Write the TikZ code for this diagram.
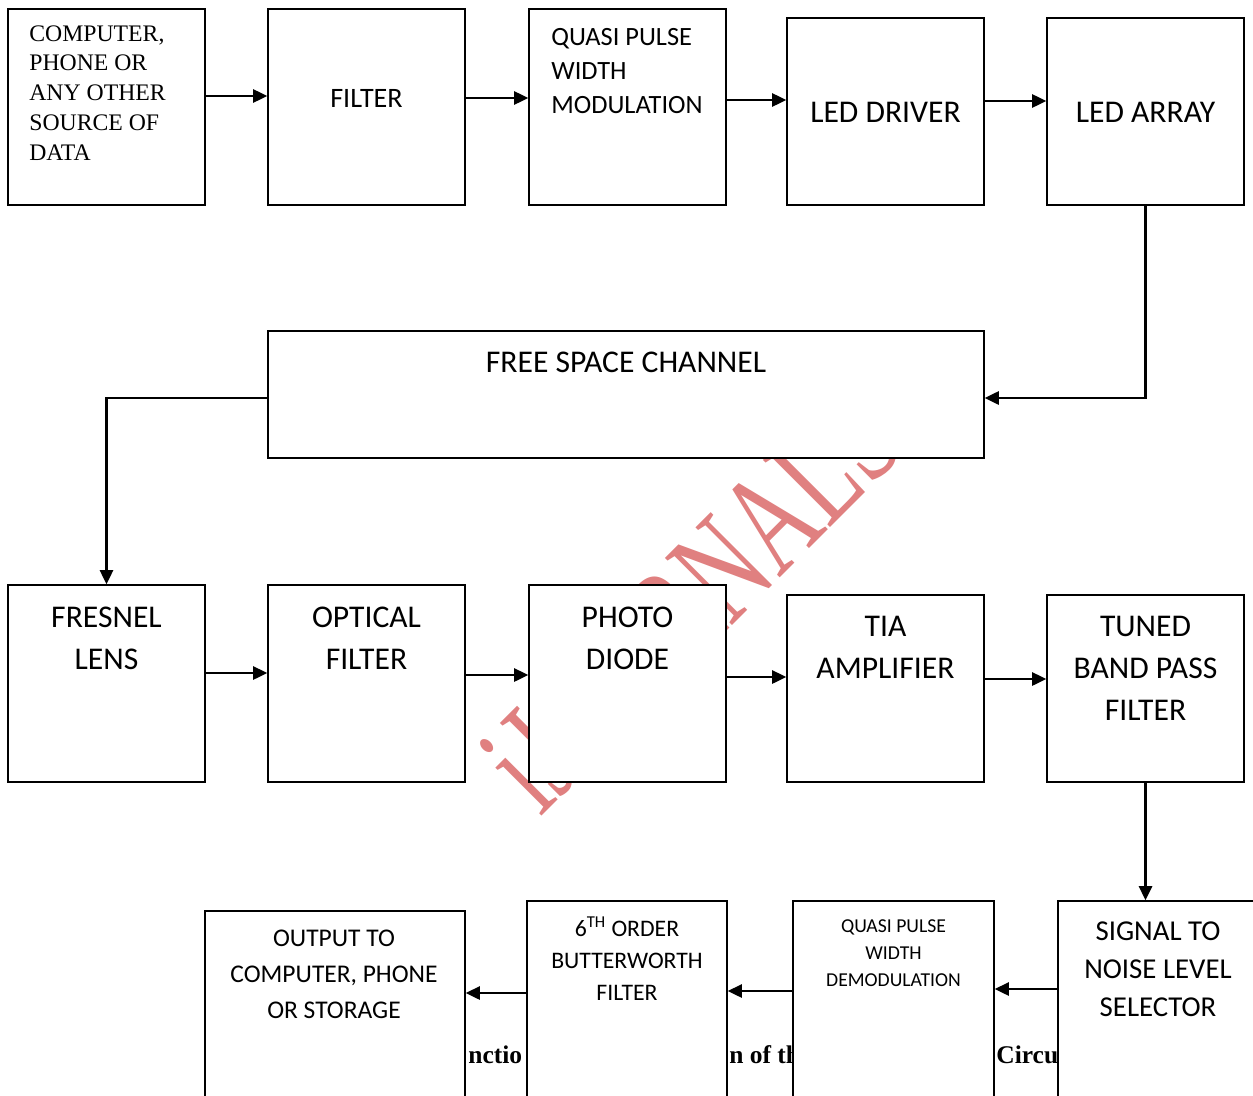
\documentclass[tikz,border=0pt]{standalone}
\usepackage{fontspec}
\setmainfont{Carlito}
\newfontfamily\tmsfont{Liberation Serif}
\usetikzlibrary{arrows.meta}
\definecolor{wmred}{RGB}{224,128,128}
\tikzset{
  blk/.style={draw, line width=0.9pt, fill=white, inner sep=0pt},
  conn/.style={line width=1.2pt, -{Triangle[length=8pt,width=7.5pt]}},
  lbl/.style={align=center, inner sep=0pt},
}
\begin{document}
\begin{tikzpicture}[x=0.02cm, y=-0.02cm]
    \useasboundingbox (0,0) rectangle (1253,1095);
    \clip (0,0) rectangle (1253,1095);
    \fill[white] (0,0) rectangle (1253,1095);

    % watermark and caption behind the boxes
    \node[text=wmred, font=\tmsfont\fontsize{55}{55}\selectfont, rotate=45, yscale=1.5, anchor=base west, inner sep=0pt] (wmark) at (540,818) {iJOURNALS};
    \node[font=\tmsfont\bfseries\fontsize{14.5}{14.5}\selectfont, anchor=base west, inner sep=0pt] (cap1) at (468,1063) {nctio};
    \node[font=\tmsfont\bfseries\fontsize{14.5}{14.5}\selectfont, anchor=base west, inner sep=0pt] (cap2) at (729,1063) {n of th};
    \node[font=\tmsfont\bfseries\fontsize{14.5}{14.5}\selectfont, anchor=base west, inner sep=0pt] (cap3) at (996,1063) {Circu};

    % transmitter
    \node[blk, minimum width=3.94cm, minimum height=3.92cm] (src) at (106.5,107) {};
    \node[blk, minimum width=3.94cm, minimum height=3.92cm] (filt) at (366.5,107) {};
    \node[blk, minimum width=3.94cm, minimum height=3.92cm] (qpwm) at (627.5,107) {};
    \node[blk, minimum width=3.94cm, minimum height=3.74cm] (drv) at (885.5,111.5) {};
    \node[blk, minimum width=3.94cm, minimum height=3.74cm] (leds) at (1145.5,111.5) {};

    \node[lbl, align=left, anchor=west, font=\tmsfont\fontsize{13.5}{17}\selectfont] (src-t) at (29,93) {COMPUTER,\\PHONE OR\\ANY OTHER\\SOURCE OF\\DATA};
    \node[lbl, font=\fontsize{16}{20}\selectfont] (filt-t) at (366.5,98) {FILTER};
    \node[lbl, align=left, anchor=west, font=\fontsize{15}{19.3}\selectfont] (qpwm-t) at (551,71) {QUASI PULSE\\WIDTH\\MODULATION};
    \node[lbl, font=\fontsize{18}{22}\selectfont] (drv-t) at (885.5,112) {LED DRIVER};
    \node[lbl, font=\fontsize{18}{22}\selectfont] (leds-t) at (1145.5,112) {LED ARRAY};

    \draw[conn] (src.east |- 0,96) -- (filt.west |- 0,96);
    \draw[conn] (filt.east |- 0,98) -- (qpwm.west |- 0,98);
    \draw[conn] (qpwm.east |- 0,100) -- (drv.west |- 0,100);
    \draw[conn] (drv.east |- 0,101) -- (leds.west |- 0,101);

    % channel
    \node[blk, minimum width=14.32cm, minimum height=2.54cm] (fsc) at (626,394.5) {};
    \node[lbl, font=\fontsize{18}{22}\selectfont] (fsc-t) at (626,362) {FREE SPACE CHANNEL};
    \draw[conn] (leds.south) |- (fsc.east |- 0,398);

    % receiver
    \node[blk, minimum width=3.94cm, minimum height=3.94cm] (lens) at (106.5,683.5) {};
    \node[blk, minimum width=3.94cm, minimum height=3.94cm] (ofilt) at (366.5,683.5) {};
    \node[blk, minimum width=3.94cm, minimum height=3.94cm] (pd) at (627.5,683.5) {};
    \node[blk, minimum width=3.94cm, minimum height=3.74cm] (tia) at (885.5,688.5) {};
    \node[blk, minimum width=3.94cm, minimum height=3.74cm] (bpf) at (1145.5,688.5) {};

    \node[lbl, font=\fontsize{18}{23.9}\selectfont] (lens-t) at (106.5,638) {FRESNEL\\LENS};
    \node[lbl, font=\fontsize{18}{23.9}\selectfont] (ofilt-t) at (366.5,638) {OPTICAL\\FILTER};
    \node[lbl, font=\fontsize{18}{23.9}\selectfont] (pd-t) at (627.5,638) {PHOTO\\DIODE};
    \node[lbl, font=\fontsize{18}{23.9}\selectfont] (tia-t) at (885.5,647) {TIA\\AMPLIFIER};
    \node[lbl, font=\fontsize{18}{23.9}\selectfont] (bpf-t) at (1145.5,668) {TUNED\\BAND PASS\\FILTER};

    \draw[conn] (fsc.west |- 0,398) -| (lens.north);
    \draw[conn] (lens.east |- 0,673) -- (ofilt.west |- 0,673);
    \draw[conn] (ofilt.east |- 0,675) -- (pd.west |- 0,675);
    \draw[conn] (pd.east |- 0,677) -- (tia.west |- 0,677);
    \draw[conn] (tia.east |- 0,679) -- (bpf.west |- 0,679);

    % output stage
    \node[blk, minimum width=5.2cm, minimum height=4.18cm] (out) at (335,1015.5) {};
    \node[blk, minimum width=4cm, minimum height=4.38cm] (bw) at (627,1010.5) {};
    \node[blk, minimum width=4.02cm, minimum height=4.38cm] (qpwd) at (893.5,1010.5) {};
    \node[blk, minimum width=4.44cm, minimum height=4.38cm] (snr) at (1169,1010.5) {};

    \node[lbl, font=\fontsize{14.5}{20.5}\selectfont] (out-t) at (334,974) {OUTPUT TO\\COMPUTER, PHONE\\OR STORAGE};
    \node[lbl, font=\fontsize{13.5}{18.2}\selectfont] (bw-t) at (627,959) {6\textsuperscript{TH} ORDER\\BUTTERWORTH\\FILTER};
    \node[lbl, font=\fontsize{11.2}{15.4}\selectfont] (qpwd-t) at (893.5,953) {QUASI PULSE\\WIDTH\\DEMODULATION};
    \node[lbl, font=\fontsize{16.4}{21.6}\selectfont] (snr-t) at (1158,969) {SIGNAL TO\\NOISE LEVEL\\SELECTOR};

    \draw[conn] (bpf.south) -- (bpf.south |- snr.north);
    \draw[conn] (snr.west |- 0,989) -- (qpwd.east |- 0,989);
    \draw[conn] (qpwd.west |- 0,991) -- (bw.east |- 0,991);
    \draw[conn] (bw.west |- 0,993) -- (out.east |- 0,993);
\end{tikzpicture}
\end{document}
